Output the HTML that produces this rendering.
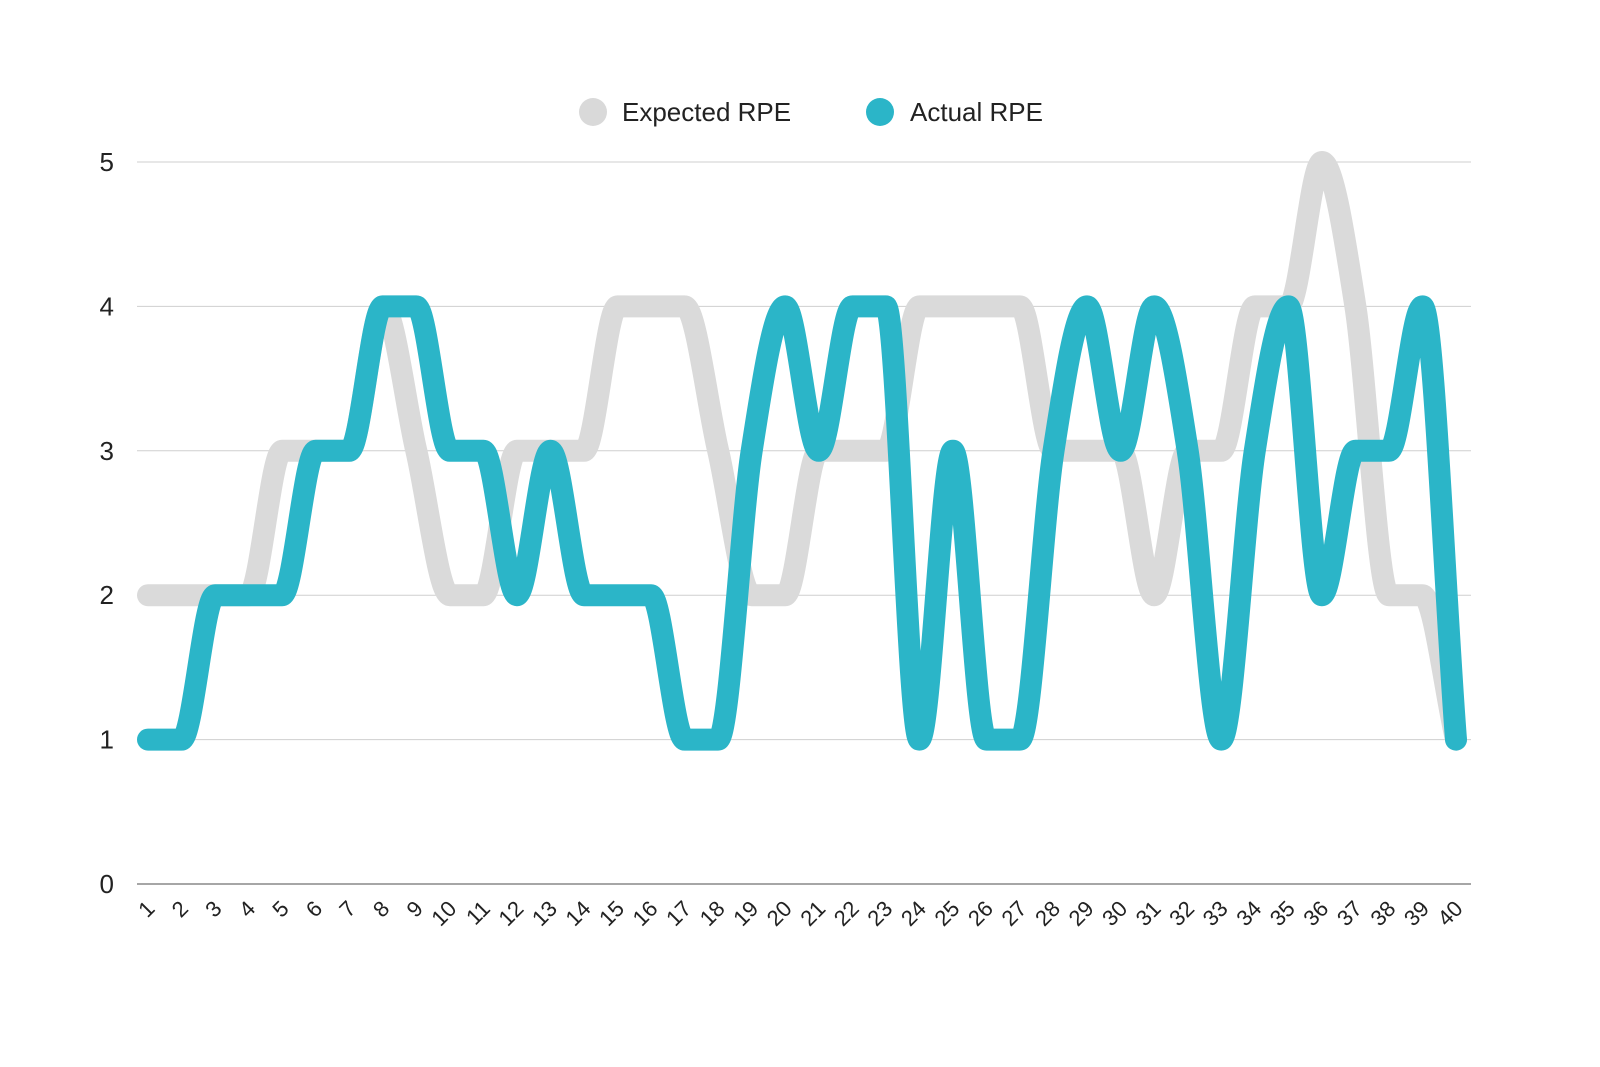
<!DOCTYPE html>
<html><head><meta charset="utf-8"><style>
html,body{margin:0;padding:0;background:#fff;}
svg{display:block;font-family:"Liberation Sans",sans-serif;}
</style></head><body>
<svg id="chart" width="1600" height="1067" viewBox="0 0 1600 1067">
<g id="legend">
<g><circle cx="593" cy="112" r="14" fill="#d9d9d9"/><text x="622" y="121" font-size="26" fill="#222">Expected RPE</text></g>
<g><circle cx="880" cy="112" r="14" fill="#2bb5c8"/><text x="910" y="121" font-size="26" fill="#222">Actual RPE</text></g>
</g>
<g id="grid"></g>
<g id="yticks"></g>
<g id="xticks"></g>
<g id="series"></g>
</svg>
<script>
const categories=[];for(let i=1;i<=40;i++)categories.push(String(i));
const expectedRPE=[2,2,2,2,3,3,3,4,3,2,2,3,3,3,4,4,4,3,2,2,3,3,3,4,4,4,4,3,3,3,2,3,3,4,4,5,4,2,2,1];
const actualRPE=[1,1,2,2,2,3,3,4,4,3,3,2,3,2,2,2,1,1,3,4,3,4,4,1,3,1,1,3,4,3,4,3,1,3,4,2,3,3,4,1];
const yTicks=[0,1,2,3,4,5];
const NS="http://www.w3.org/2000/svg";
const x0=148,x1=1456,left=137,right=1471,yBase=884,yTop=162;
const xs=i=>x0+i*(x1-x0)/(categories.length-1);
const ys=v=>yBase-(v/5)*(yBase-yTop);
function mk(t,a,p){const e=document.createElementNS(NS,t);for(const k in a)e.setAttribute(k,a[k]);p.appendChild(e);return e;}
const grid=document.getElementById('grid'),yt=document.getElementById('yticks'),xt=document.getElementById('xticks'),se=document.getElementById('series');
yTicks.forEach(v=>{
 const l=mk('line',{x1:left,x2:right,y1:ys(v),y2:ys(v),stroke:v===0?'#888':'#cfcfcf','stroke-width':v===0?1.5:1},grid);
 
 
 const t=mk('text',{x:114,y:ys(v)+9,'font-size':26,fill:'#222','text-anchor':'end'},yt);
 t.textContent=v;
 
 
});
categories.forEach((c,i)=>{
 const x=xs(i)+8,y=910;
 const t=mk('text',{x:x,y:y,'font-size':22,fill:'#222','text-anchor':'end',transform:`rotate(-45 ${x} ${y})`},xt);
 t.textContent=c;
 
 
});
function monotonePath(vals){
 const n=vals.length,px=vals.map((v,i)=>xs(i)),py=vals.map(ys);
 const d=[],m=[];
 for(let i=0;i<n-1;i++)d.push((py[i+1]-py[i])/(px[i+1]-px[i]));
 for(let i=0;i<n;i++){
  if(i===0)m.push(d[0]);else if(i===n-1)m.push(d[n-2]);
  else m.push(d[i-1]*d[i]<=0?0:(d[i-1]+d[i])/2);
 }
 for(let i=0;i<n-1;i++){if(d[i]===0){m[i]=0;m[i+1]=0;continue;}
  const a=m[i]/d[i],b=m[i+1]/d[i],s=a*a+b*b;if(s>9){const t=3/Math.sqrt(s);m[i]=t*a*d[i];m[i+1]=t*b*d[i];}}
 let p=`M${px[0]},${py[0]}`;
 for(let i=0;i<n-1;i++){const h=(px[i+1]-px[i])/3;
  p+=`C${px[i]+h},${py[i]+m[i]*h} ${px[i+1]-h},${py[i+1]-m[i+1]*h} ${px[i+1]},${py[i+1]}`;}
 return p;
}
const pe=mk('path',{d:monotonePath(expectedRPE),fill:'none',stroke:'#dadada','stroke-width':22,'stroke-linecap':'round','stroke-linejoin':'round'},se);


const pa=mk('path',{d:monotonePath(actualRPE),fill:'none',stroke:'#2bb5c8','stroke-width':22,'stroke-linecap':'round','stroke-linejoin':'round'},se);


</script>
</body></html>
